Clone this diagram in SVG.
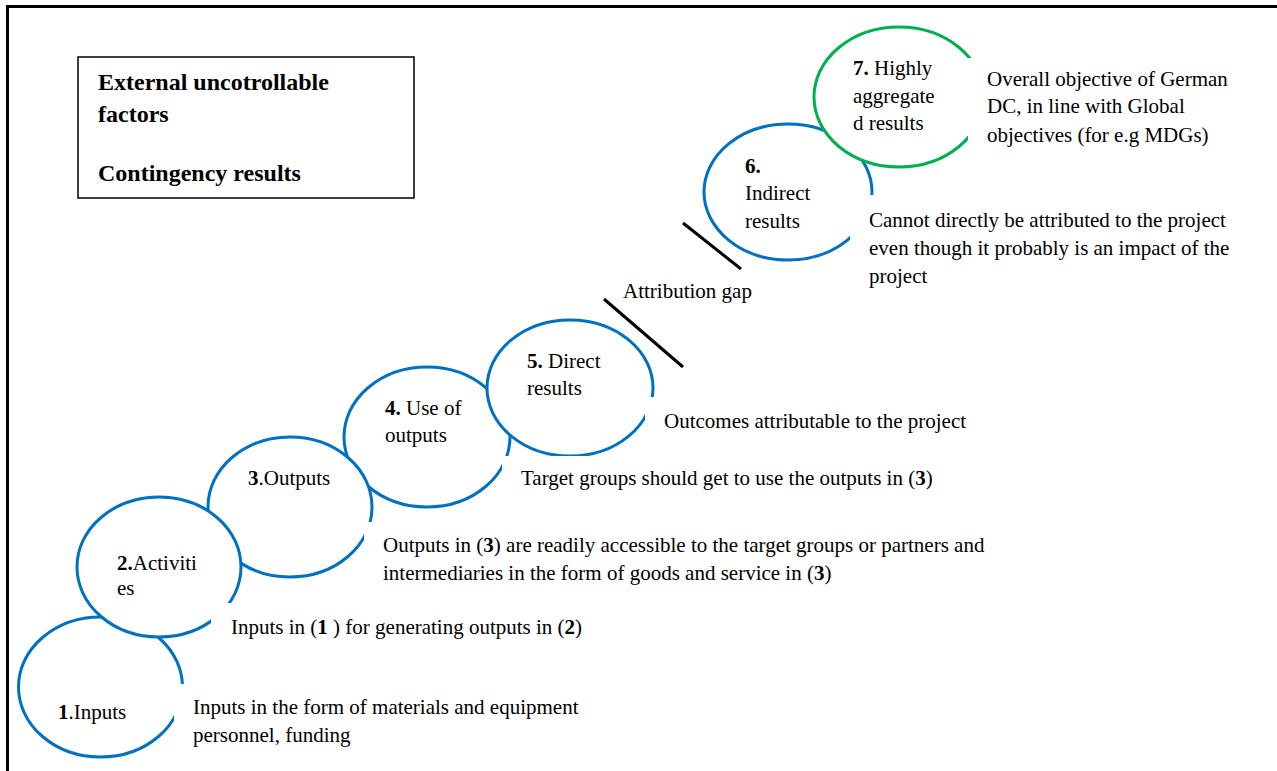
<svg xmlns="http://www.w3.org/2000/svg" width="1277" height="771" viewBox="0 0 1277 771">
<style>
text{font-family:"Liberation Serif","Times New Roman",serif;font-size:21px;fill:#000}
.b{font-weight:bold}
.t{font-size:24px;font-weight:bold}
.e{fill:#fff;stroke:#0070C0;stroke-width:3}
.g{fill:#fff;stroke:#00B050;stroke-width:3}
.w{fill:#fff;stroke:none}
.gap{stroke:#000;stroke-width:3;fill:none}
</style>
<rect width="1277" height="771" fill="#fff"/>
<path d="M7.5 771V6.5H1277" fill="none" stroke="#000" stroke-width="3"/>
<g id="factors-box">
<rect x="78" y="57" width="336" height="141" fill="#fff" stroke="#000" stroke-width="1.5"/>
<text class="t" x="98" y="90">External uncotrollable</text>
<text class="t" x="98" y="122">factors</text>
<text class="t" x="98" y="181">Contingency results</text>
</g>
<g id="n1"><ellipse class="e" cx="100.5" cy="687" rx="82" ry="70"/>
<text x="58" y="719"><tspan class="b">1</tspan>.Inputs</text></g>
<g id="n4"><ellipse class="e" cx="427" cy="437" rx="83" ry="70"/>
<text x="385" y="415"><tspan class="b">4.</tspan> Use of</text><text x="385" y="442">outputs</text></g>
<g id="n3"><ellipse class="e" cx="290" cy="507" rx="82" ry="70"/>
<text x="248" y="485"><tspan class="b">3</tspan>.Outputs</text></g>
<g id="n2"><ellipse class="e" cx="159" cy="567" rx="82" ry="70"/>
<text x="117" y="570"><tspan class="b">2.</tspan>Activiti</text><text x="117" y="595">es</text></g>
<g id="n5"><ellipse class="e" cx="570" cy="388" rx="83" ry="68"/>
<text x="527" y="368"><tspan class="b">5.</tspan> Direct</text><text x="527" y="395">results</text></g>
<g id="n6"><ellipse class="e" cx="788" cy="192" rx="84" ry="68"/>
<text class="b" x="745" y="173">6.</text><text x="745" y="200">Indirect</text><text x="745" y="228">results</text></g>
<g id="n7"><ellipse class="g" cx="899" cy="97" rx="85" ry="70"/>
<text x="853" y="75"><tspan class="b">7.</tspan> Highly</text><text x="853" y="103">aggregate</text><text x="853" y="130">d results</text></g>
<g id="d1"><rect class="w" x="174" y="684" width="430" height="68"/>
<text x="193" y="714">Inputs in the form of materials and equipment</text><text x="193" y="742">personnel, funding</text></g>
<g id="d2"><rect class="w" x="211" y="603" width="390" height="42"/>
<text x="231" y="634">Inputs in (<tspan class="b">1</tspan> ) for generating outputs in (<tspan class="b">2</tspan>)</text></g>
<g id="d3"><rect class="w" x="364" y="522" width="650" height="70"/>
<text x="383" y="552">Outputs in (<tspan class="b">3</tspan>) are readily accessible to the target groups or partners and</text><text x="383" y="580">intermediaries in the form of goods and service in (<tspan class="b">3</tspan>)</text></g>
<g id="d4"><rect class="w" x="502" y="456" width="460" height="40"/>
<text x="521" y="485">Target groups should get to use the outputs in (<tspan class="b">3</tspan>)</text></g>
<g id="d5"><rect class="w" x="645" y="397" width="345" height="40"/>
<text x="664" y="428">Outcomes attributable to the project</text></g>
<g id="d6"><rect class="w" x="850" y="195" width="400" height="100"/>
<text x="869" y="227">Cannot directly be attributed to the project</text><text x="869" y="255">even though it probably is an impact of the</text><text x="869" y="283">project</text></g>
<g id="d7"><rect class="w" x="968" y="58" width="270" height="95"/>
<text x="987" y="86">Overall objective of German</text><text x="987" y="113">DC, in line with Global</text><text x="987" y="142">objectives (for e.g MDGs)</text></g>
<g id="connectors">
<line class="gap" x1="683" y1="223" x2="741" y2="269"/>
<line class="gap" x1="604" y1="299" x2="683" y2="367"/>
<text x="623" y="298">Attribution gap</text>
</g>
</svg>
